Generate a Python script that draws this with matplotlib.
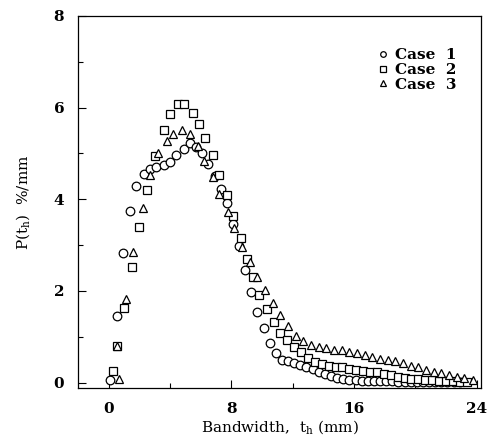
import matplotlib
matplotlib.use("Agg")
import matplotlib.pyplot as plt
from matplotlib.ticker import MultipleLocator

# case 1 (circles)
t1 = [0.1, 0.5, 0.9, 1.4, 1.8, 2.3, 2.7, 3.1, 3.6, 4.0, 4.4, 4.9, 5.3, 5.7, 6.1,
      6.5, 6.9, 7.3, 7.7, 8.1, 8.5, 8.9, 9.3, 9.7, 10.1, 10.5, 10.9, 11.3, 11.7,
      12.1, 12.5, 12.9, 13.3, 13.7, 14.1, 14.5, 14.9, 15.3, 15.7, 16.1, 16.5,
      16.9, 17.3, 17.7, 18.1, 18.5, 18.9, 19.3, 19.7, 20.1, 20.5, 20.9, 21.3,
      21.7, 22.1, 22.5, 22.9]
p1 = [0.05, 1.46, 2.83, 3.75, 4.28, 4.56, 4.67, 4.70, 4.75, 4.82, 4.97, 5.10,
      5.22, 5.15, 5.00, 4.78, 4.50, 4.22, 3.92, 3.47, 2.97, 2.46, 1.98, 1.55,
      1.18, 0.87, 0.64, 0.50, 0.46, 0.43, 0.39, 0.35, 0.29, 0.23, 0.18, 0.14,
      0.11, 0.08, 0.06, 0.05, 0.04, 0.04, 0.03, 0.03, 0.03, 0.03, 0.02, 0.02,
      0.02, 0.02, 0.02, 0.02, 0.02, 0.02, 0.02, 0.02, 0.02]

# case 2 (squares)
t2 = [0.25, 0.5, 1.0, 1.5, 2.0, 2.5, 3.0, 3.6, 4.0, 4.5, 4.9, 5.5, 5.9, 6.3, 6.8,
      7.2, 7.7, 8.1, 8.6, 9.0, 9.4, 9.8, 10.3, 10.75, 11.2, 11.65, 12.1, 12.55,
      13.0, 13.45, 13.9, 14.35, 14.8, 15.25, 15.7, 16.15, 16.6, 17.05, 17.5,
      17.95, 18.4, 18.85, 19.3, 19.75, 20.2, 20.65, 21.1, 21.55, 22.0, 22.45,
      22.9, 23.35]
p2 = [0.26, 0.80, 1.63, 2.52, 3.40, 4.20, 4.94, 5.52, 5.87, 6.07, 6.07, 5.89,
      5.65, 5.33, 4.96, 4.52, 4.09, 3.63, 3.15, 2.70, 2.30, 1.91, 1.60, 1.33,
      1.09, 0.93, 0.78, 0.67, 0.54, 0.45, 0.40, 0.37, 0.35, 0.33, 0.30, 0.27,
      0.25, 0.23, 0.22, 0.19, 0.16, 0.13, 0.10, 0.08, 0.07, 0.06, 0.05, 0.04,
      0.03, 0.03, 0.02, 0.02]

# case 3 (triangles)
t3 = [0.65, 0.55, 1.1, 1.6, 2.2, 2.7, 3.2, 3.8, 4.2, 4.8, 5.3, 5.8, 6.2, 6.8,
      7.2, 7.8, 8.2, 8.7, 9.2, 9.7, 10.2, 10.7, 11.2, 11.7, 12.2, 12.7, 13.2,
      13.7, 14.2, 14.7, 15.2, 15.7, 16.2, 16.7, 17.2, 17.7, 18.2, 18.7, 19.2,
      19.7, 20.2, 20.7, 21.2, 21.7, 22.2, 22.7, 23.2, 23.8]
p3 = [0.07, 0.80, 1.83, 2.85, 3.80, 4.54, 5.00, 5.28, 5.43, 5.52, 5.43, 5.17,
      4.83, 4.48, 4.11, 3.72, 3.37, 2.96, 2.63, 2.30, 2.02, 1.74, 1.48, 1.24,
      1.02, 0.90, 0.83, 0.78, 0.75, 0.72, 0.70, 0.67, 0.64, 0.60, 0.56, 0.52,
      0.49, 0.46, 0.42, 0.37, 0.33, 0.28, 0.24, 0.20, 0.16, 0.12, 0.09, 0.05]

plt.rcParams['font.family'] = 'DejaVu Serif'

fig = plt.figure(figsize=(4.95, 4.44), dpi=100)
ax = fig.add_axes([0.158, 0.126, 0.814, 0.838])

mk = dict(linestyle='none', markerfacecolor='white', markeredgecolor='black',
          markeredgewidth=0.9, color='black')
ax.plot(t1, p1, marker='o', markersize=6.2, label='Case  1', **mk)
ax.plot(t2, p2, marker='s', markersize=5.6, label='Case  2', **mk)
ax.plot(t3, p3, marker='^', markersize=6.2, label='Case  3', **mk)

ax.set_xlim(-2.0, 24.3)
ax.set_ylim(-0.12, 8)
ax.xaxis.set_major_locator(MultipleLocator(8))
ax.xaxis.set_minor_locator(MultipleLocator(4))
ax.yaxis.set_major_locator(MultipleLocator(2))
ax.yaxis.set_minor_locator(MultipleLocator(1))
ax.tick_params(which='both', direction='in', labelsize=11, pad=10, width=0.8)
ax.tick_params(which='major', length=6)
ax.tick_params(which='minor', length=3.5)
for lab in ax.get_xticklabels() + ax.get_yticklabels():
    lab.set_fontweight('bold')
for s in ax.spines.values():
    s.set_linewidth(0.9)

ax.set_xlabel('Bandwidth,  t$_\\mathregular{h}$ (mm)', fontsize=11, labelpad=2)
ax.set_ylabel('P(t$_\\mathregular{h}$)  %/mm', fontsize=11, labelpad=15)

leg = ax.legend(loc='upper right', frameon=False, markerscale=0.65,
                prop={'size': 11, 'weight': 'bold'},
                handlelength=0.6, handletextpad=0.5, labelspacing=0.05,
                borderaxespad=0.0, bbox_to_anchor=(0.955, 0.93))

fig.savefig('out.png', dpi=100)
